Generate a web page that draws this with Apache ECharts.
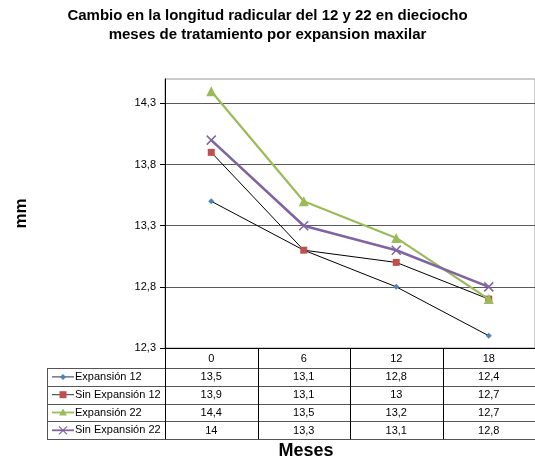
<!DOCTYPE html>
<html>
<head>
<meta charset="utf-8">
<script src="https://cdn.jsdelivr.net/npm/echarts@6/dist/echarts.min.js"></script>
<style>html,body{margin:0;padding:0;background:#fff}#c{width:535px;height:462px}</style>
</head>
<body>
<div id="c"></div>
<script>
const categories = ['0', '6', '12', '18'];
const seriesNames = ['Expansión 12', 'Sin Expansión 12', 'Expansión 22', 'Sin Expansión 22'];
const expansion12 = [13.5, 13.1, 12.8, 12.4];
const sinExpansion12 = [13.9, 13.1, 13, 12.7];
const expansion22 = [14.4, 13.5, 13.2, 12.7];
const sinExpansion22 = [14, 13.3, 13.1, 12.8];
const yTicks = [12.3, 12.8, 13.3, 13.8, 14.3];
const yMin = 12.3, yMax = 14.5, yStep = 0.5;

const seriesData = [expansion12, sinExpansion12, expansion22, sinExpansion22];
const FONT = '"Liberation Sans", Arial, sans-serif';
const fmt = v => String(v).replace('.', ',');

// layout
const W = 535, H = 462;
const GL = 165, GR = 535, GT = 79, GB = 348;
const TABLE_LEFT = 47, HEADER_H = 20, ROW_H = 17.8;
const catW = (GR - GL) / categories.length;

const styles = [
  {line: '#000', lw: 1, color: '#4F81BD', symbol: 'diamond', size: 6},
  {line: '#000', lw: 1, color: '#C0504D', symbol: 'rect', size: 7},
  {line: '#9BBB59', lw: 2.2, color: '#9BBB59', symbol: 'triangle', size: 10},
  {line: '#8064A2', lw: 2.6, color: '#8064A2', symbol: 'path://M0,0L10,10M10,0L0,10', size: 9}
];

const series = seriesData.map((d, i) => ({
  name: seriesNames[i],
  type: 'line',
  data: d,
  symbol: styles[i].symbol,
  symbolSize: styles[i].size,
  lineStyle: {color: styles[i].line, width: styles[i].lw},
  itemStyle: i === 3 ? {color: 'rgba(0,0,0,0)', borderColor: styles[i].color, borderWidth: 1.5} : {color: styles[i].color, borderWidth: 0},
  emphasis: {disabled: true},
  animation: false,
  z: 3 + i
}));

// table graphics
const graphics = [];
const tableBottom = GB + HEADER_H + ROW_H * seriesNames.length;
const lineColor = '#555';
for (let i = 0; i <= seriesNames.length; i++) {
  const y = Math.round(GB + HEADER_H + i * ROW_H) + 0.5;
  graphics.push({type: 'line', shape: {x1: TABLE_LEFT, y1: y, x2: GR, y2: y}, style: {stroke: lineColor, lineWidth: 1}, silent: true});
}
graphics.push({type: 'line', shape: {x1: TABLE_LEFT + 0.5, y1: GB + HEADER_H, x2: TABLE_LEFT + 0.5, y2: tableBottom}, style: {stroke: lineColor, lineWidth: 1}, silent: true});
graphics.push({type: 'line', shape: {x1: GL + 0.5, y1: GB, x2: GL + 0.5, y2: tableBottom}, style: {stroke: '#000', lineWidth: 1}, silent: true});
for (let k = 1; k < categories.length; k++) {
  const x = Math.round(GL + k * catW) + 0.5;
  graphics.push({type: 'line', shape: {x1: x, y1: GB, x2: x, y2: tableBottom}, style: {stroke: '#000', lineWidth: 1}, silent: true});
}
seriesNames.forEach((name, i) => {
  const cy = GB + HEADER_H + (i + 0.5) * ROW_H;
  const st = styles[i];
  // legend key
  graphics.push({type: 'line', shape: {x1: 52, y1: cy, x2: 74, y2: cy}, style: {stroke: st.line === '#000' ? '#333' : st.line, lineWidth: i >= 2 ? 1.8 : 1}, silent: true});
  if (st.symbol === 'diamond') {
    graphics.push({type: 'polygon', shape: {points: [[63, cy - 3], [66, cy], [63, cy + 3], [60, cy]]}, style: {fill: st.color}, silent: true});
  } else if (st.symbol === 'rect') {
    graphics.push({type: 'rect', shape: {x: 59.5, y: cy - 3.5, width: 7, height: 7}, style: {fill: st.color}, silent: true});
  } else if (st.symbol === 'triangle') {
    graphics.push({type: 'polygon', shape: {points: [[63, cy - 4], [67, cy + 3], [59, cy + 3]]}, style: {fill: st.color}, silent: true});
  } else {
    graphics.push({type: 'line', shape: {x1: 59, y1: cy - 4, x2: 67, y2: cy + 4}, style: {stroke: st.color, lineWidth: 1.2}, silent: true});
    graphics.push({type: 'line', shape: {x1: 67, y1: cy - 4, x2: 59, y2: cy + 4}, style: {stroke: st.color, lineWidth: 1.2}, silent: true});
  }
  graphics.push({type: 'text', x: 75, y: cy, style: {text: name, font: '11px ' + FONT, fill: '#000', textAlign: 'left', textVerticalAlign: 'middle'}, silent: true});
  seriesData[i].forEach((v, j) => {
    graphics.push({type: 'text', x: GL + (j + 0.5) * catW, y: cy + 0.5, style: {text: fmt(v), font: '11px ' + FONT, fill: '#000', textAlign: 'center', textVerticalAlign: 'middle'}, silent: true});
  });
});
graphics.push({type: 'text', x: 306, y: 451, style: {text: 'Meses', font: 'bold 18px ' + FONT, fill: '#000', textAlign: 'center', textVerticalAlign: 'middle'}, silent: true});

const chart = echarts.init(document.getElementById('c'), null, {renderer: 'canvas'});
chart.setOption({
  animation: false,
  backgroundColor: '#fff',
  title: {
    text: 'Cambio en la longitud radicular del 12 y 22 en dieciocho\nmeses de tratamiento por expansion maxilar',
    left: 'center',
    top: 1,
    textStyle: {fontFamily: FONT, fontSize: 15, fontWeight: 'bold', color: '#000', lineHeight: 19}
  },
  grid: {left: GL, right: W - GR, top: GT, bottom: H - GB, show: true, borderColor: '#999', borderWidth: 1, containLabel: false},
  xAxis: {
    type: 'category',
    data: categories,
    boundaryGap: true,
    axisLine: {show: true, lineStyle: {color: '#000', width: 1}},
    axisTick: {show: false},
    axisLabel: {margin: 5, fontFamily: FONT, fontSize: 11, color: '#000'},
    splitLine: {show: false}
  },
  yAxis: {
    type: 'value',
    min: yMin,
    max: yMax,
    interval: yStep,
    name: 'mm',
    nameLocation: 'middle',
    nameRotate: 90,
    nameGap: 135,
    nameTextStyle: {fontFamily: FONT, fontSize: 17, fontWeight: 'bold', color: '#000'},
    axisLine: {show: true, lineStyle: {color: '#000', width: 1}},
    axisTick: {show: true, length: 5, lineStyle: {color: '#000'}, customValues: yTicks},
    axisLabel: {margin: 9, fontFamily: FONT, fontSize: 11, color: '#000', customValues: yTicks, formatter: v => fmt(Math.round(v * 10) / 10)},
    splitLine: {show: true, lineStyle: {color: '#5a5a5a', width: 1}}
  },
  series: series,
  graphic: graphics
});
</script>
</body>
</html>
